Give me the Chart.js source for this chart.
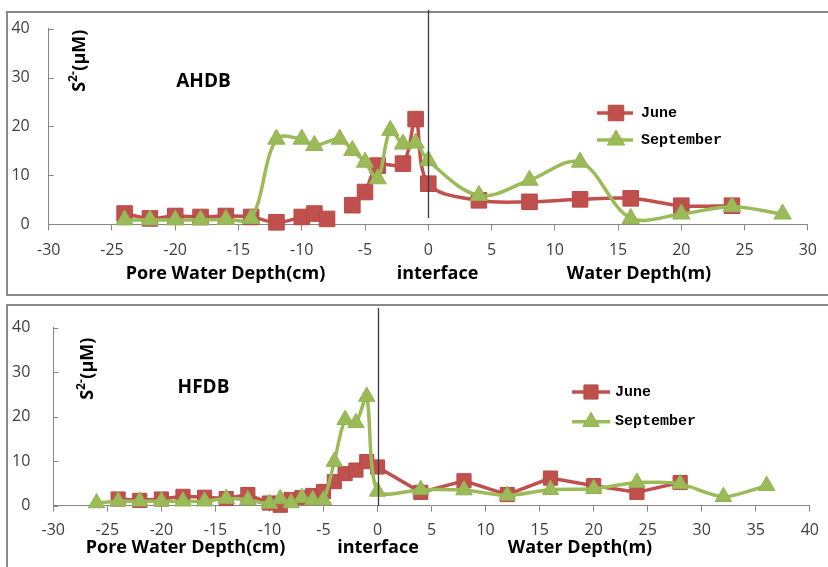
<!DOCTYPE html>
<html><head><meta charset="utf-8">
<script src="https://cdn.jsdelivr.net/npm/chart.js@4/dist/chart.umd.min.js"></script>
<style>
html,body{margin:0;padding:0;background:#fff;width:828px;height:567px;overflow:hidden;}
.frame{position:absolute;border:2px solid #8a8a8a;box-sizing:border-box;}
canvas{position:absolute;left:0;}
</style></head><body>
<div class="frame" style="left:6px;top:11px;width:900px;height:285px"></div>
<div class="frame" style="left:6px;top:304px;width:900px;height:300px"></div>
<canvas id="c1" width="828" height="295" style="top:0"></canvas>
<canvas id="c2" width="828" height="272" style="top:295px"></canvas>
<script>
// ---- Data: AHDB (top panel) ----
const ahdbJuneDepth = [-24,-22,-20,-18,-16,-14,-12,-10,-9,-8,-7,-6,-5,-4,-2,-1,0,4,8,12,16,20,24];
const ahdbJuneS2    = [2.2,1.2,1.7,1.5,1.7,1.5,0.4,1.5,2.2,1.1,null,3.9,6.6,12.0,12.4,21.5,8.3,4.9,4.6,5.1,5.3,3.8,3.8];
const ahdbSeptDepth = [-24,-22,-20,-18,-16,-14,-12,-10,-9,-7,-6,-5,-4,-3,-2,-1,0,4,8,12,16,20,24,28];
const ahdbSeptS2    = [0.9,0.9,0.9,0.9,1.0,1.2,17.4,17.4,16.1,17.4,15.1,12.7,9.3,19.2,16.4,16.6,13.0,5.9,9.0,12.7,1.2,2.1,3.6,2.1];
// ---- Data: HFDB (bottom panel) ----
const hfdbJuneDepth = [-24,-22,-20,-18,-16,-14,-12,-10,-9,-8,-7,-6,-5,-4,-3,-2,-1,0,4,8,12,16,20,24,28];
const hfdbJuneS2    = [1.5,1.2,1.5,2.1,1.9,1.6,2.5,0.6,0.1,1.4,1.8,2.3,3.2,5.4,7.2,8.0,9.9,8.7,3.0,5.6,2.5,6.2,4.5,3.0,5.2];
const hfdbSeptDepth = [-26,-24,-22,-20,-18,-16,-14,-12,-10,-9,-8,-7,-6,-5,-4,-3,-2,-1,0,4,8,12,16,20,24,28,32,36];
const hfdbSeptS2    = [0.6,1.0,1.0,1.0,1.0,1.0,1.6,1.3,0.5,1.5,0.6,1.8,1.3,1.3,9.9,19.3,18.6,24.5,3.2,3.6,3.5,2.3,3.6,3.8,5.2,4.9,2.0,4.5];
const seriesNames = ['June','September'];
const panelNames = ['AHDB','HFDB'];
const bottomLabels = ['Pore Water Depth(cm)','interface','Water Depth(m)'];

const RED = '#C0504D', RED_B = '#B84A47', GREEN = '#9BBB59', GREEN_B = '#93B352';
const TICKFONT = {family:'"Open Sans", "DejaVu Sans", sans-serif', size:16};

function ds(label, xs, ys, style, color, border, radius, tension, order){
  return {
    label, data: xs.map((x,i)=>({x:x, y:ys[i]})),
    borderColor:color, backgroundColor:color, borderWidth:3.5,
    pointStyle:style, pointRadius:radius, pointHoverRadius:radius,
    pointBackgroundColor:color, pointBorderColor:border, pointBorderWidth:1,
    tension:tension, spanGaps:false, clip:false, order:order
  };
}

function drawMarker(ctx, style, x, y, r, fill, stroke){
  ctx.beginPath();
  if(style==='rect'){ const s=r*Math.SQRT1_2; ctx.rect(x-s,y-s,2*s,2*s); }
  else {
    const a=2*Math.PI/3;
    ctx.moveTo(x, y-r);
    ctx.lineTo(x+r*Math.sin(a), y-r*Math.cos(a));
    ctx.lineTo(x+r*Math.sin(2*a), y-r*Math.cos(2*a));
    ctx.closePath();
  }
  ctx.fillStyle=fill; ctx.fill(); ctx.strokeStyle=stroke; ctx.lineWidth=1; ctx.stroke();
}

const decor = {
  id:'decor',
  afterDatasetsDraw(chart, args, o){
    const ctx=chart.ctx, xs=chart.scales.x, ys=chart.scales.y;
    ctx.save();
    // inner y tick marks
    ctx.strokeStyle='#868686'; ctx.lineWidth=1;
    ys.ticks.forEach(t=>{
      const py=Math.round(ys.getPixelForValue(t.value))+0.5;
      ctx.beginPath(); ctx.moveTo(xs.left, py); ctx.lineTo(xs.left+5, py); ctx.stroke();
    });
    // interface line at depth 0
    const x0=Math.round(xs.getPixelForValue(0))+0.5;
    ctx.strokeStyle='#3a3a3a'; ctx.lineWidth=1.3;
    ctx.beginPath(); ctx.moveTo(x0,o.vTop); ctx.lineTo(x0,o.vBottom); ctx.stroke();
    // panel name
    ctx.fillStyle='#000'; ctx.textAlign='center'; ctx.textBaseline='middle';
    ctx.font='bold 19px "Open Sans", "DejaVu Sans", sans-serif';
    ctx.fillText(o.panel, o.panelX, o.panelY);
    // bottom labels
    ctx.font='bold 18px "Open Sans", "DejaVu Sans", sans-serif';
    o.labels.forEach((t,i)=>ctx.fillText(t, o.labelsX[i], o.labelsY));
    // rotated y title S2-(μM)
    ctx.save(); ctx.translate(o.ytX, o.ytY); ctx.rotate(-Math.PI/2);
    const big='bold 18px "Open Sans", "DejaVu Sans", sans-serif', small='bold 12px "Open Sans", "DejaVu Sans", sans-serif';
    ctx.font=big; const wS=ctx.measureText('S').width, wR=ctx.measureText('(μM)').width;
    ctx.font=small; const wSup=ctx.measureText('2-').width;
    let tx=-(wS+wSup+wR)/2;
    ctx.textAlign='left'; ctx.textBaseline='alphabetic';
    ctx.font=big; ctx.fillText('S',tx,6.5); tx+=wS;
    ctx.font=small; ctx.fillText('2-',tx,-1.5); tx+=wSup+0.5;
    ctx.font=big; ctx.fillText('(μM)',tx,6.5);
    ctx.restore();
    // legend
    chart.data.datasets.forEach((d,i)=>{
      const y=o.legendY[i];
      ctx.strokeStyle=d.borderColor; ctx.lineWidth=3.5;
      ctx.beginPath(); ctx.moveTo(o.legLine[0],y); ctx.lineTo(o.legLine[1],y); ctx.stroke();
      drawMarker(ctx, d.pointStyle, o.legMarkX, y, d.pointRadius, d.pointBackgroundColor, d.pointBorderColor);
      ctx.fillStyle='#000'; ctx.textAlign='left'; ctx.textBaseline='middle';
      ctx.font='bold 15px "Liberation Mono", monospace';
      ctx.fillText(d.label, o.legTextX, y);
    });
    ctx.restore();
  }
};

function makeChart(id, xmax, areaTop, yAxisW, padRight, xAxisH, tickPadY, tickPadX, datasets, deco){
  return new Chart(document.getElementById(id), {
    type:'line',
    data:{datasets:datasets},
    options:{
      responsive:false, animation:false, devicePixelRatio:1,
      events:[],
      layout:{padding:{top:areaTop, right:padRight, left:0, bottom:0}},
      plugins:{legend:{display:false}, tooltip:{enabled:false}, decor:deco},
      scales:{
        x:{type:'linear', min:-30, max:xmax,
           ticks:{stepSize:5, font:TICKFONT, color:'#404040', padding:tickPadX, maxRotation:0, autoSkip:false},
           grid:{display:true, drawOnChartArea:false, drawTicks:true, tickLength:6, color:'#868686'},
           border:{display:true, color:'#868686', width:1},
           afterFit:s=>{s.height=xAxisH;}},
        y:{type:'linear', min:0, max:40,
           ticks:{stepSize:10, font:TICKFONT, color:'#404040', padding:tickPadY},
           grid:{display:false, drawTicks:false},
           border:{display:true, color:'#868686', width:1},
           afterFit:s=>{s.width=yAxisW;}}
      }
    },
    plugins:[decor]
  });
}

makeChart('c1', 30, 26.7, 48.7, 10.7, 70.7, 19, 11, [
  ds(seriesNames[0], ahdbJuneDepth, ahdbJuneS2, 'rect', RED, RED_B, 11, 0.35, 1),
  ds(seriesNames[1], ahdbSeptDepth, ahdbSeptS2, 'triangle', GREEN, GREEN_B, 10, 0.35, 0)
], {panel:panelNames[0], panelX:203.5, panelY:82, ytX:78, ytY:61, vTop:10, vBottom:218,
    legendY:[113,140], legLine:[597,633], legMarkX:616, legTextX:641,
    labels:bottomLabels, labelsX:[225.5,437.5,639], labelsY:274});

makeChart('c2', 40, 26.7, 53.3, 10.3, 61.3, 23, 9, [
  ds(seriesNames[0], hfdbJuneDepth, hfdbJuneS2, 'rect', RED, RED_B, 10, 0, 1),
  ds(seriesNames[1], hfdbSeptDepth, hfdbSeptS2, 'triangle', GREEN, GREEN_B, 9.5, 0.25, 0)
], {panel:panelNames[1], panelX:203.5, panelY:92.5, ytX:86, ytY:74, vTop:13, vBottom:211,
    legendY:[97,126.7], legLine:[572,610], legMarkX:591, legTextX:615,
    labels:bottomLabels, labelsX:[185.5,378,580], labelsY:253});
</script>
</body></html>
